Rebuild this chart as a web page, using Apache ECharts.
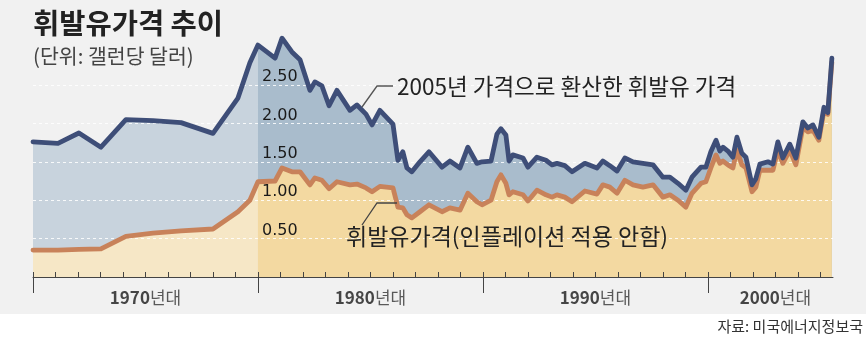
<!DOCTYPE html>
<html><head><meta charset="utf-8">
<script src="https://cdn.jsdelivr.net/npm/echarts/dist/echarts.min.js"></script>
<style>
html,body{margin:0;padding:0;background:#fff}
#c{width:866px;height:339px;background:linear-gradient(#f1f1f1 0,#f1f1f1 314px,#fff 314px,#fff 339px)}
</style>
</head><body><div id="c"></div>
<script>
// ---- data ----
const years = [1970.00,1971.11,1972.04,1973.02,1974.13,1975.33,1976.58,1978.00,1979.11,1979.64,
  1980.00,1980.76,1981.07,1981.51,1981.87,1982.31,1982.53,1982.84,1983.16,1983.51,
  1984.09,1984.40,1984.80,1985.07,1985.42,1986.00,1986.22,1986.44,1986.62,1986.84,
  1987.20,1987.60,1988.18,1988.53,1988.98,1989.33,1989.73,1989.96,1990.36,1990.62,
  1990.80,1991.02,1991.16,1991.33,1991.78,1992.00,1992.40,1992.80,1993.07,1993.29,
  1993.64,1993.96,1994.53,1995.07,1995.33,1995.64,1995.96,1996.31,1996.67,1997.11,
  1997.56,1998.00,1998.31,1998.67,1999.02,1999.29,1999.69,1999.91,2000.13,2000.36,
  2000.53,2000.67,2000.89,2001.11,2001.29,2001.51,2001.69,2001.96,2002.13,2002.31,
  2002.67,2002.89,2003.11,2003.33,2003.64,2003.91,2004.22,2004.44,2004.67,2004.93,
  2005.16,2005.33,2005.51];
// 2005년 가격으로 환산한 휘발유 가격
const realPrice = [1.76,1.74,1.875,1.69,2.05,2.035,2.01,1.87,2.33,2.79,
  3.02,2.85,3.11,2.93,2.83,2.43,2.54,2.49,2.23,2.43,
  2.17,2.24,2.12,1.98,2.17,1.99,1.52,1.63,1.42,1.37,
  1.50,1.63,1.43,1.51,1.42,1.69,1.48,1.50,1.51,1.86,
  1.93,1.85,1.51,1.59,1.55,1.43,1.56,1.52,1.46,1.48,
  1.45,1.37,1.48,1.42,1.51,1.45,1.38,1.55,1.50,1.48,
  1.46,1.30,1.30,1.22,1.13,1.30,1.43,1.43,1.63,1.78,
  1.64,1.69,1.64,1.56,1.82,1.61,1.56,1.20,1.28,1.47,
  1.50,1.47,1.76,1.55,1.73,1.55,2.02,1.94,1.98,1.82,
  2.21,2.14,2.85];
// 휘발유가격(인플레이션 적용 안함)
const nominalPrice = [0.35,0.35,0.36,0.365,0.53,0.57,0.60,0.625,0.85,1.00,
  1.24,1.25,1.42,1.37,1.37,1.20,1.29,1.26,1.15,1.24,
  1.20,1.21,1.16,1.11,1.18,1.16,0.91,0.90,0.81,0.77,
  0.85,0.94,0.85,0.90,0.87,1.09,0.98,0.94,1.00,1.24,
  1.33,1.22,1.07,1.11,1.07,0.99,1.13,1.07,1.04,1.07,
  1.04,0.98,1.12,1.08,1.20,1.17,1.09,1.26,1.20,1.17,
  1.20,1.04,1.07,1.00,0.91,1.09,1.22,1.24,1.42,1.59,
  1.48,1.51,1.46,1.42,1.65,1.46,1.42,1.11,1.17,1.39,
  1.39,1.39,1.65,1.48,1.65,1.46,1.95,1.89,1.91,1.78,
  2.17,2.12,2.80];
const yTicks = [0.5, 1.0, 1.5, 2.0, 2.5];
const decadeTicks = [1970, 1980, 1990, 2000];
const decadeLabels = ['1970년대', '1980년대', '1990년대', '2000년대'];
const decadeLabelYears = [1975, 1985, 1995, 2003];
const splitYear = 1980;
const xMin = 1970, xMax = 2005.56;

// ---- build ----
const pairs = (vals, cond) => years.map((y, i) => [y, vals[i]]).filter(p => cond(p[0]));
const before = y => y <= splitYear, after = y => y >= splitYear;
const yearTicks = [];
for (let y = xMin; y <= 2005; y++) yearTicks.push(y);

function areaSeries(vals, cond, color) {
  return { type: 'line', data: pairs(vals, cond), symbol: 'none', silent: true, clip: false, z: 1,
    lineStyle: { width: 0 }, areaStyle: { color: color, opacity: 1 } };
}
function lineSeries(vals, color) {
  return { type: 'line', data: pairs(vals, () => true), symbol: 'none', silent: true, clip: false, z: 5,
    lineStyle: { width: 4.8, color: color, join: 'round', cap: 'round' } };
}

const chart = echarts.init(document.getElementById('c'), null, { renderer: 'canvas' });
chart.setOption({
  backgroundColor: 'transparent',
  animation: false,
  grid: { left: 33, right: 33, top: 85, bottom: 62 },
  xAxis: [
    { type: 'value', min: xMin, max: xMax, interval: 10, position: 'bottom', z: 3,
      axisLine: { show: true, lineStyle: { color: '#444', width: 1 } },
      axisTick: { show: true, inside: false, length: 16, customValues: decadeTicks, lineStyle: { color: '#444', width: 1 } },
      axisLabel: { show: false }, splitLine: { show: false } },
    { type: 'value', min: xMin, max: xMax, interval: 1, position: 'bottom', z: 3,
      axisLine: { show: false },
      axisTick: { show: true, inside: true, length: 5, customValues: yearTicks, lineStyle: { color: '#444', width: 1 } },
      axisLabel: { show: false }, splitLine: { show: false } }
  ],
  yAxis: {
    type: 'value', min: 0, max: 2.5, interval: 0.5, position: 'left', offset: -228, z: 3,
    axisLine: { show: false }, axisTick: { show: false },
    axisLabel: { inside: true, margin: 1, verticalAlign: 'bottom', color: '#1a1a1a',
      fontFamily: 'DejaVu Sans', fontSize: 16,
      formatter: v => yTicks.some(t => Math.abs(t - v) < 1e-9) ? v.toFixed(2) : '' },
    splitLine: { show: true, showMinLine: false, lineStyle: { color: 'rgba(255,255,255,0.85)', width: 1, type: [3, 3] } }
  },
  series: [
    areaSeries(realPrice, before, '#c8d3dd'),
    areaSeries(realPrice, after, '#a9bccc'),
    areaSeries(nominalPrice, before, '#f6e7c6'),
    areaSeries(nominalPrice, after, '#f3d9a1'),
    lineSeries(nominalPrice, '#c8825a'),
    lineSeries(realPrice, '#3e4e78'),
    { type: 'scatter', data: decadeLabelYears.map(y => [y, 0]), symbolSize: 0, clip: false, silent: true, z: 6,
      label: { show: true, position: 'bottom', distance: 12, color: '#222', fontSize: 17,
        fontFamily: 'Noto Sans CJK KR',
        formatter: p => { const s = decadeLabels[p.dataIndex]; return '{d|' + s.slice(0, 4) + '}{k|' + s.slice(4) + '}'; },
        rich: {
          d: { fontSize: 17, fontWeight: 'bold', color: '#1a1a1a', fontFamily: 'Noto Sans CJK KR' },
          k: { fontSize: 17, color: '#333', fontFamily: 'Noto Sans CJK KR' }
        } } }
  ],
  graphic: [
    { type: 'text', left: 33, top: 9, z: 10, style: { text: '휘발유가격 추이', fill: '#222',
      font: 'bold 28.5px "Noto Sans CJK KR"' } },
    { type: 'text', left: 33, top: 46, z: 10, style: { text: '(단위: 갤런당 달러)', fill: '#444',
      font: '20.5px "Noto Sans CJK KR"' } },
    { type: 'text', left: 397, top: 75, z: 10, style: { text: '2005년 가격으로 환산한 휘발유 가격', fill: '#222',
      font: '22.5px "Noto Sans CJK KR"' } },
    { type: 'text', left: 346, top: 225, z: 10, style: { text: '휘발유가격(인플레이션 적용 안함)', fill: '#222',
      font: '23px "Noto Sans CJK KR"' } },
    { type: 'text', right: 3, top: 319, z: 10, style: { text: '자료: 미국에너지정보국', fill: '#333',
      font: '15px "Noto Sans CJK KR"' } },
    { type: 'polyline', z: 10, shape: { points: [[362, 107], [377, 86], [393, 86]] },
      style: { stroke: '#555', lineWidth: 1.3, fill: null } },
    { type: 'polyline', z: 10, shape: { points: [[362, 225], [377, 203], [397, 203]] },
      style: { stroke: '#444', lineWidth: 1.3, fill: null } }
  ]
});
</script>
</body></html>
